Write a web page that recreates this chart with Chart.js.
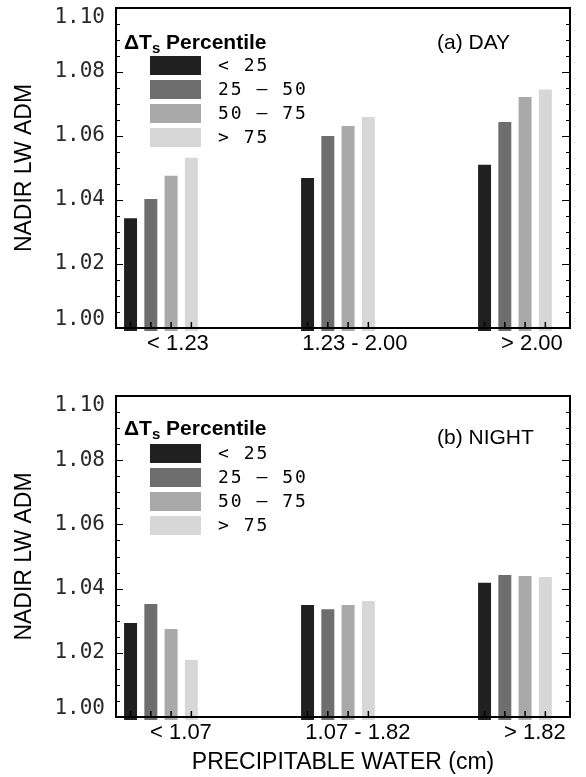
<!DOCTYPE html>
<html>
<head>
<meta charset="utf-8">
<script src="https://cdn.jsdelivr.net/npm/chart.js@4.4.0/dist/chart.umd.min.js"></script>
<style>
  body { margin: 0; background: #fff; }
  .panel { position: absolute; left: 0; }
</style>
</head>
<body>
<div class="panel" style="top:0"><canvas id="day-chart" width="586" height="389"></canvas></div>
<div class="panel" style="top:389px"><canvas id="night-chart" width="586" height="388"></canvas></div>
<script>
// categories (precipitable water bins)
const dayCats = ['< 1.23', '1.23 - 2.00', '> 2.00']
const nightCats = ['< 1.07', '1.07 - 1.82', '> 1.82']

// delta Ts percentile classes
const pctLabels = ['< 25', '25 \u2013 50', '50 \u2013 75', '> 75']
const pctColors = ['#202020', '#6e6e6e', '#a9a9a9', '#d7d7d7']

// nadir LW ADM, day
const dayP25 = [1.0343, 1.0469, 1.0510]
const dayP50 = [1.0403, 1.0600, 1.0644]
const dayP75 = [1.0476, 1.0631, 1.0722]
const dayP100 = [1.0532, 1.0659, 1.0745]

// nadir LW ADM, night
const nightP25 = [1.0293, 1.0349, 1.0418]
const nightP50 = [1.0352, 1.0336, 1.0442]
const nightP75 = [1.0274, 1.0349, 1.0439]
const nightP100 = [1.0178, 1.0361, 1.0436]

const yTicks = [1.00, 1.02, 1.04, 1.06, 1.08, 1.10]

const toPoints = vals => vals.map((v, i) => ({x: i, y: v}))

// frame, inward ticks, y labels, legend and panel label
const decorPlugin = {
    id: 'decor',
    afterDatasetsDraw(chart, args, opts) {
        const ctx = chart.ctx
        const a = chart.chartArea
        const y = chart.scales.y
        ctx.save()
        ctx.strokeStyle = '#000'
        ctx.lineWidth = 2
        ctx.strokeRect(a.left, a.top, a.right - a.left, a.bottom - a.top)

        // y ticks, major 0.02 / minor 0.005, on both sides pointing in
        ctx.lineWidth = 1.2
        for (let k = 0; k <= 20; k++) {
            const v = 1.0 + k * 0.005
            const py = Math.round(y.getPixelForValue(v)) + 0.5
            const major = k % 4 === 0
            ctx.beginPath()
            ctx.moveTo(a.left, py)
            ctx.lineTo(a.left + (major ? 7 : 4), py)
            ctx.moveTo(a.right, py)
            ctx.lineTo(a.right - (major ? 8 : 4), py)
            ctx.stroke()
        }

        // y tick labels, end ones pulled inside the frame
        ctx.fillStyle = '#2a2a2a'
        ctx.font = '21px "DejaVu Sans Mono", monospace'
        ctx.textAlign = 'right'
        ctx.textBaseline = 'middle'
        yTicks.forEach(v => {
            const py = Math.min(Math.max(y.getPixelForValue(v), a.top + 10), a.bottom - 8)
            ctx.fillText(v.toFixed(2), a.left - 11, py)
        })
        ctx.textAlign = 'left'

        // small ticks at bar centres on the bottom axis
        ctx.lineWidth = 1.5
        chart.data.datasets.forEach((ds, di) => {
            chart.getDatasetMeta(di).data.forEach(bar => {
                ctx.beginPath()
                ctx.moveTo(bar.x, a.bottom)
                ctx.lineTo(bar.x, a.bottom - 6)
                ctx.stroke()
            })
        })

        // legend
        ctx.fillStyle = '#000'
        ctx.font = 'bold 21px "Liberation Sans", Arial, sans-serif'
        let tx = a.left + 8
        ctx.fillText('\u0394T', tx, opts.legendTitleY)
        tx += ctx.measureText('\u0394T').width
        ctx.font = 'bold 15px "Liberation Sans", Arial, sans-serif'
        ctx.fillText('s', tx, opts.legendTitleY + 6)
        tx += ctx.measureText('s').width
        ctx.font = 'bold 21px "Liberation Sans", Arial, sans-serif'
        ctx.fillText(' Percentile', tx, opts.legendTitleY)

        ctx.font = '18px "DejaVu Sans Mono", monospace'
        ctx.letterSpacing = '2px'
        chart.data.datasets.forEach((ds, i) => {
            const top = opts.legendTop + i * 24
            ctx.fillStyle = ds.backgroundColor
            ctx.fillRect(a.left + 34, top, 51, 19)
            ctx.fillStyle = '#000'
            ctx.fillText(ds.label, a.left + 102, top + 10)
        })
        ctx.letterSpacing = '0px'

        // panel label
        ctx.font = '21px "Liberation Sans", Arial, sans-serif'
        ctx.fillText(opts.panelLabel, 437, opts.panelLabelY)
        ctx.restore()
    }
}

function makeChart(id, cats, series, panel) {
    const datasets = series.map((vals, i) => ({
        label: pctLabels[i],
        data: toPoints(vals),
        backgroundColor: pctColors[i],
        borderWidth: 0,
        base: 0.9991,
        clip: false,
        categoryPercentage: 0.458,
        barPercentage: 0.64
    }))

    return new Chart(document.getElementById(id), {
        type: 'bar',
        data: {datasets: datasets},
        plugins: [decorPlugin],
        options: {
            responsive: false,
            animation: false,
            layout: {padding: {left: 0, right: 16, top: panel.top, bottom: 0}},
            plugins: {
                legend: {display: false},
                tooltip: {enabled: false},
                decor: panel
            },
            scales: {
                x: {
                    type: 'linear',
                    offset: false,
                    min: -0.254,
                    max: 2.311,
                    grid: {display: false, drawTicks: false, offset: false},
                    border: {display: false},
                    afterBuildTicks: s => { s.ticks = cats.map((c, i) => ({value: i})) },
                    afterFit: s => {
                        s.height = panel.bottomHeight
                        s.paddingLeft = 0
                        s.paddingRight = 0
                    },
                    ticks: {
                        autoSkip: false,
                        maxRotation: 0,
                        padding: 3,
                        labelOffset: panel.labelOffset,
                        color: '#000',
                        font: {family: '"Liberation Sans", Arial, sans-serif', size: 22},
                        callback: (v, i) => cats[i]
                    },
                    title: {
                        display: panel.xTitle !== '',
                        text: panel.xTitle,
                        color: '#000',
                        padding: {top: 0, bottom: 1},
                        font: {family: '"Liberation Sans", Arial, sans-serif', size: 23}
                    }
                },
                y: {
                    min: 1.0,
                    max: 1.1,
                    grid: {display: false, drawTicks: false},
                    border: {display: false},
                    afterBuildTicks: s => { s.ticks = yTicks.map(v => ({value: v})) },
                    afterFit: s => {
                        s.width = 116
                        s.paddingTop = 0
                        s.paddingBottom = 0
                    },
                    ticks: {display: false},
                    title: {
                        display: true,
                        text: 'NADIR LW ADM',
                        color: '#000',
                        padding: {top: 11, bottom: 0},
                        font: {family: '"Liberation Sans", Arial, sans-serif', size: 23}
                    }
                }
            }
        }
    })
}

makeChart('day-chart', dayCats, [dayP25, dayP50, dayP75, dayP100], {
    top: 8, bottomHeight: 61, labelOffset: 17, xTitle: '',
    panelLabel: '(a) DAY', panelLabelY: 43,
    legendTitleY: 43, legendTop: 56
})

makeChart('night-chart', nightCats, [nightP25, nightP50, nightP75, nightP100], {
    top: 7, bottomHeight: 60, labelOffset: 20, xTitle: 'PRECIPITABLE WATER (cm)',
    panelLabel: '(b) NIGHT', panelLabelY: 49,
    legendTitleY: 40, legendTop: 55
})
</script>
</body>
</html>
